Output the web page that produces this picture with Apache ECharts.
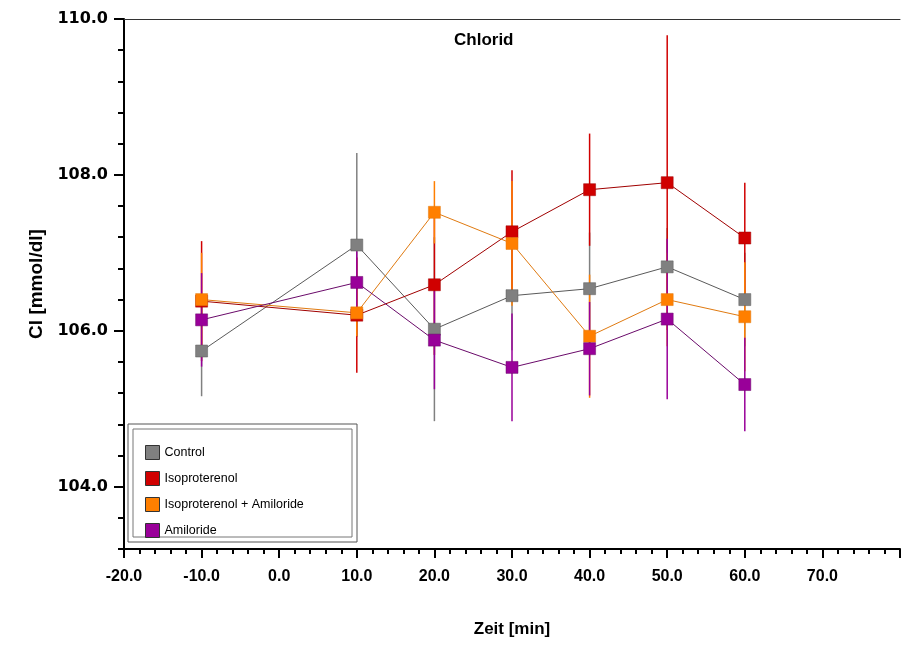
<!DOCTYPE html>
<html>
<head>
<meta charset="utf-8">
<script src="https://cdn.jsdelivr.net/npm/echarts@6/dist/echarts.min.js"></script>
<style>
  html, body { margin: 0; padding: 0; background: #fff; }
  #main { width: 903px; height: 646px; }
</style>
</head>
<body>
<div id="main"></div>
<script>
  // Daten (Mittelwert und Fehlerbalken je Gruppe)
  const timePoints = [-10, 10, 20, 30, 40, 50, 60];
  const seriesNames = ['Control', 'Isoproterenol', 'Isoproterenol + Amiloride', 'Amiloride'];
  const controlMean = [105.74, 107.10, 106.02, 106.45, 106.54, 106.82, 106.40];
  const controlErr = [0.58, 1.18, 1.18, 0.70, 0.72, 0.50, 0.60];
  const isoMean = [106.38, 106.20, 106.59, 107.27, 107.81, 107.90, 107.19];
  const isoErr = [0.77, 0.74, 0.90, 0.79, 0.72, 1.89, 0.71];
  const isoAmiMean = [106.40, 106.23, 107.52, 107.12, 105.93, 106.40, 106.18];
  const isoAmiErr = [0.60, 0.30, 0.40, 0.80, 0.79, 0.60, 0.70];
  const amiMean = [106.14, 106.62, 105.88, 105.53, 105.77, 106.15, 105.31];
  const amiErr = [0.60, 0.40, 0.63, 0.69, 0.60, 1.03, 0.60];
  const yLabels = [104, 106, 108, 110];
  const xLabels = [-20, -10, 0, 10, 20, 30, 40, 50, 60, 70];

  const colors = ['#808080', '#d00000', '#ff7f00', '#990099'];
  const lineColors = ['#5a5a5a', '#a00000', '#e07a10', '#6a0a6a'];
  const means = [controlMean, isoMean, isoAmiMean, amiMean];
  const errs = [controlErr, isoErr, isoAmiErr, amiErr];

  const errSeries = means.map((m, i) => ({
    type: 'custom',
    name: seriesNames[i] + ' err',
    xAxisIndex: 0,
    yAxisIndex: 0,
    z: 1,
    silent: true,
    data: timePoints.map((t, k) => [t, m[k] - errs[i][k], m[k] + errs[i][k]]),
    renderItem: (params, api) => {
      const lo = api.coord([api.value(0), api.value(1)]);
      const hi = api.coord([api.value(0), api.value(2)]);
      return {
        type: 'line',
        shape: { x1: lo[0], y1: lo[1], x2: hi[0], y2: hi[1] },
        style: { stroke: colors[i], lineWidth: 1.5 }
      };
    }
  }));

  const lineSeries = means.map((m, i) => ({
    type: 'line',
    name: seriesNames[i],
    xAxisIndex: 0,
    yAxisIndex: 0,
    z: 3,
    symbol: 'rect',
    symbolSize: 12,
    itemStyle: { color: colors[i], borderColor: lineColors[i], borderWidth: 0.5 },
    lineStyle: { color: lineColors[i], width: 1 },
    data: timePoints.map((t, k) => [t, m[k]])
  }));

  const chart = echarts.init(document.getElementById('main'));
  chart.setOption({
    animation: false,
    backgroundColor: '#fff',
    title: {
      text: 'Chlorid',
      left: 449,
      top: 27,
      textStyle: { fontFamily: 'Liberation Sans', fontWeight: 'bold', fontSize: 17, color: '#000' }
    },
    grid: { left: 124, top: 19, right: 3, bottom: 97, containLabel: false },
    legend: {
      orient: 'vertical',
      left: 140,
      top: 440,
      icon: 'rect',
      itemWidth: 14,
      itemHeight: 14,
      itemGap: 11,
      data: seriesNames,
      itemStyle: { borderColor: '#333', borderWidth: 1 },
      textStyle: { fontFamily: 'Liberation Sans', fontSize: 12.5, color: '#000' }
    },
    graphic: [
      { type: 'rect', shape: { x: 128, y: 424, width: 229, height: 118 }, style: { fill: 'none', stroke: '#555', lineWidth: 1 }, z: 0 },
      { type: 'rect', shape: { x: 133, y: 429, width: 219, height: 108 }, style: { fill: '#fff', stroke: '#777', lineWidth: 1 }, z: 0 }
    ],
    xAxis: [
      {
        type: 'value',
        min: -20,
        max: 80,
        interval: 10,
        name: 'Zeit [min]',
        nameLocation: 'middle',
        nameGap: 72,
        nameTextStyle: { fontFamily: 'Liberation Sans', fontWeight: 'bold', fontSize: 17, color: '#000', verticalAlign: 'top' },
        axisLine: { onZero: false, lineStyle: { color: '#000', width: 2 } },
        axisTick: { length: 9, lineStyle: { color: '#000', width: 2 } },
        minorTick: { show: true, splitNumber: 5, length: 5, lineStyle: { color: '#000', width: 2 } },
        splitLine: { show: false },
        axisLabel: {
          customValues: xLabels,
          margin: 20,
          formatter: (v) => v.toFixed(1),
          fontFamily: 'Liberation Sans',
          fontWeight: 'bold',
          fontSize: 16,
          color: '#000'
        }
      },
      {
        type: 'value',
        position: 'top',
        min: -20,
        max: 80,
        axisLine: { show: true, onZero: false, lineStyle: { color: '#333', width: 1 } },
        axisTick: { show: false },
        axisLabel: { show: false },
        splitLine: { show: false }
      }
    ],
    yAxis: [
      {
        type: 'value',
        min: 103.2,
        max: 110,
        interval: 0.4,
        name: 'Cl [mmol/dl]',
        nameLocation: 'middle',
        nameGap: 78,
        nameRotate: 90,
        nameTextStyle: { fontFamily: 'Liberation Sans', fontWeight: 'bold', fontSize: 19, color: '#000' },
        axisLine: { show: true, onZero: false, lineStyle: { color: '#000', width: 2 } },
        axisTick: { length: 6, lineStyle: { color: '#000', width: 2 } },
        axisLabel: { show: false },
        splitLine: { show: false }
      },
      {
        type: 'value',
        min: 103.2,
        max: 110,
        position: 'left',
        axisLine: { show: false, onZero: false },
        axisTick: { customValues: yLabels, length: 10, lineStyle: { color: '#000', width: 2 } },
        axisLabel: {
          customValues: yLabels,
          margin: 16,
          formatter: (v) => v.toFixed(1),
          fontFamily: 'DejaVu Sans',
          fontWeight: 'bold',
          fontSize: 16,
          color: '#000'
        },
        splitLine: { show: false }
      }
    ],
    series: errSeries.concat(lineSeries)
  });
</script>
</body>
</html>
